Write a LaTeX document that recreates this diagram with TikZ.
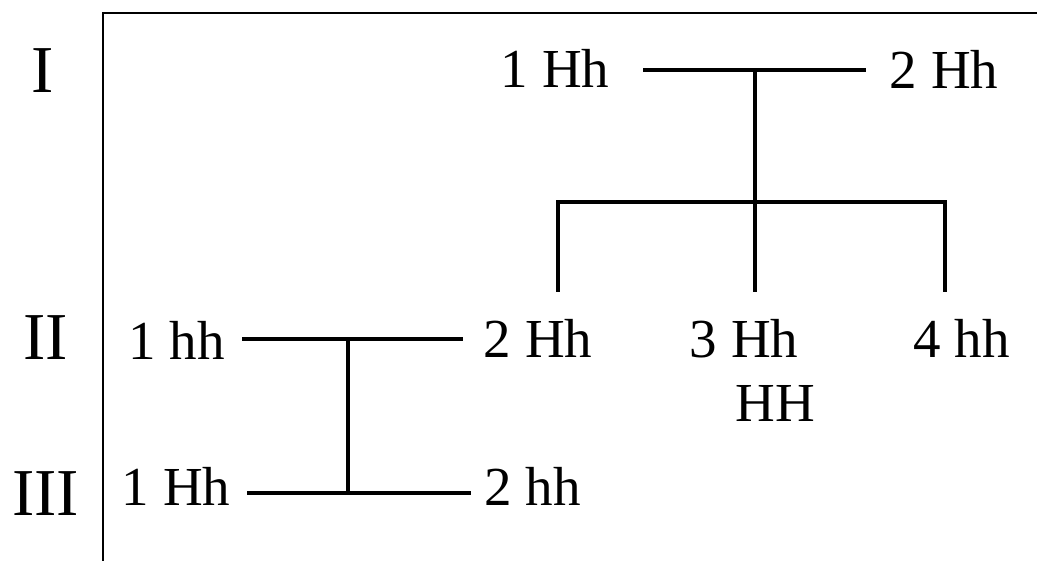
\documentclass[tikz,border=0pt]{standalone}
\usepackage{fontspec}
\setmainfont{Liberation Serif}
\begin{document}
\begin{tikzpicture}[x=1pt,y=-1pt,
  lab/.style={anchor=base,inner sep=0pt,font=\fontsize{55}{60}\selectfont},
  gen/.style={anchor=base,inner sep=0pt,font=\fontsize{67}{72}\selectfont},
  ped/.style={line width=4.8pt},
  frame/.style={line width=1.4pt}]
\useasboundingbox (0,0) rectangle (1037,561);
% frame
\coordinate (ftl) at (103,13);
\coordinate (ftr) at (1037,13);
\coordinate (fbl) at (103,561);
\draw[frame] (fbl) -- (ftl) -- (ftr);
% generation labels
\node[gen] (gI) at (43,93) {I};
\node[gen] (gII) at (46,360) {II};
\node[gen] (gIII) at (45.5,515) {III};
% generation I
\node[lab] (a1) at (555,88) {1 Hh};
\node[lab] (a2) at (944,89) {2 Hh};
% generation II
\node[lab] (b1) at (176.5,360) {1 hh};
\node[lab] (b2) at (538,358) {2 Hh};
\node[lab] (b3) at (744,358) {3 Hh};
\node[lab] (b3g) at (775.5,422) {HH};
\node[lab] (b4) at (961.5,358) {4 hh};
% generation III
\node[lab] (c1) at (176,505) {1 Hh};
\node[lab] (c2) at (532.5,505) {2 hh};
% connector points
\coordinate (m1l) at (643,70);
\coordinate (m1r) at (866,70);
\coordinate (m1) at (755,70);
\coordinate (s1) at (755,202);
\coordinate (s1l) at (558,202);
\coordinate (s1r) at (945,202);
\coordinate (d2) at (558,292);
\coordinate (d3) at (755,292);
\coordinate (d4) at (945,292);
\coordinate (m2l) at (242,339);
\coordinate (m2r) at (463,339);
\coordinate (m2) at (348,339);
\coordinate (m3) at (348,493);
\coordinate (m3l) at (247,493);
\coordinate (m3r) at (471,493);
% pedigree lines
\draw[ped] (m1l) -- (m1r);
\draw[ped] (m1) -- (d3);
\draw[ped] (d2) -- (s1l) -- (s1r) -- (d4);
\draw[ped] (m2l) -- (m2r);
\draw[ped] (m2) -- (m3);
\draw[ped] (m3l) -- (m3r);
\end{tikzpicture}
\end{document}
